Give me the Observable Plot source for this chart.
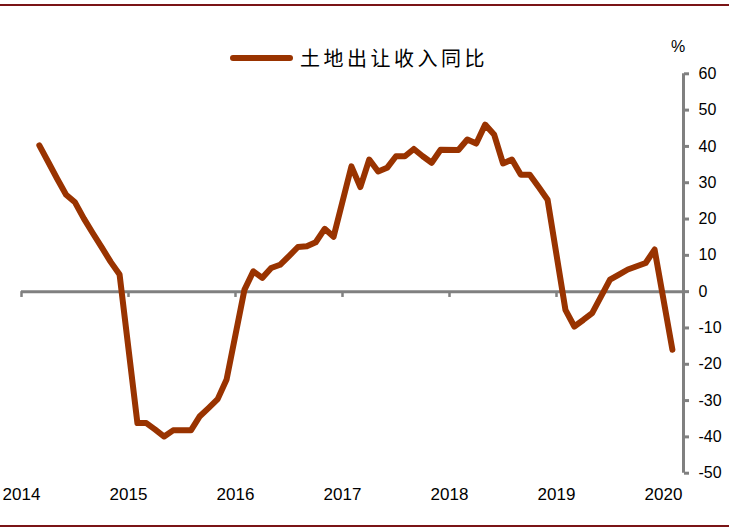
<!DOCTYPE html>
<html><head><meta charset="utf-8">
<script src="https://cdn.jsdelivr.net/npm/d3@7"></script>
<script src="https://cdn.jsdelivr.net/npm/@observablehq/plot@0.6"></script>
<style>
body{margin:0;background:#fff;}
#wrap{position:relative;width:729px;height:528px;overflow:hidden;font-family:"Liberation Sans",Arial,sans-serif;background:#fff;}
.border{position:absolute;left:0;width:729px;height:2px;background:#7a1416;}
#legline{position:absolute;left:230px;top:55px;width:63px;height:6px;border-radius:3px;background:#993300;}
#legtext{position:absolute;left:300px;top:44px;font-family:"Noto Sans CJK SC",sans-serif;font-size:20px;line-height:28px;letter-spacing:3.5px;color:#000;}
#unit{position:absolute;left:671px;top:38px;font-size:16px;color:#000;}
#chart{position:absolute;left:0;top:0;}
</style></head>
<body>
<div id="wrap">
  <div class="border" style="top:4px"></div>
  <div class="border" style="top:525px"></div>
  <div id="chart"></div>
  <div id="legline"></div>
  <div id="legtext">土地出让收入同比</div>
  <div id="unit">%</div>
</div>
<script>
const months = ["2014-03","2014-04","2014-05","2014-06","2014-07","2014-08","2014-09","2014-10","2014-11","2014-12",
"2015-02","2015-03","2015-04","2015-05","2015-06","2015-07","2015-08","2015-09","2015-10","2015-11","2015-12",
"2016-02","2016-03","2016-04","2016-05","2016-06","2016-07","2016-08","2016-09","2016-10","2016-11","2016-12",
"2017-02","2017-03","2017-04","2017-05","2017-06","2017-07","2017-08","2017-09","2017-10","2017-11","2017-12",
"2018-02","2018-03","2018-04","2018-05","2018-06","2018-07","2018-08","2018-09","2018-10","2018-11","2018-12",
"2019-02","2019-03","2019-04","2019-05","2019-06","2019-07","2019-08","2019-09","2019-10","2019-11","2019-12",
"2020-02"];
const values = [40.3,35.7,31.1,26.7,24.6,20.1,16.1,12.2,8.2,4.7,
-36.2,-36.2,-38.0,-39.9,-38.2,-38.2,-38.2,-34.3,-32.0,-29.6,-24.2,
0.5,5.6,3.8,6.5,7.4,9.8,12.3,12.5,13.6,17.3,15.1,
34.5,28.8,36.4,33.1,34.1,37.3,37.3,39.3,37.3,35.5,39.1,
39.0,41.9,40.8,46.0,43.3,35.3,36.4,32.2,32.2,28.8,25.3,
-5.0,-9.6,-7.8,-5.9,-1.3,3.3,4.7,6.1,7.0,7.9,11.6,
-16.0];
const years = [2014,2015,2016,2017,2018,2019,2020];
const yTicks = [-50,-40,-30,-20,-10,0,10,20,30,40,50,60];
const seriesName = "土地出让收入同比";

const data = months.map((m,i)=>{const [yy,mm]=m.split("-").map(Number);return {x: yy+(mm-1)/12, v: values[i]};});
const xEnd = 2014 + 662/107;

const chart = Plot.plot({
  width:729, height:528,
  marginLeft:21, marginRight:46, marginTop:73.3, marginBottom:55.3,
  x:{domain:[2014,xEnd]},
  y:{domain:[-50,60]},
  style:{fontFamily:"'Liberation Sans', Arial, sans-serif", background:"transparent", color:"#000"},
  marks:[
    Plot.ruleY([0],{stroke:"#808080",strokeWidth:3}),
    Plot.ruleX(years,{x:d=>d, y1:0, y2:-1.6, stroke:"#808080", strokeWidth:2.5}),
    Plot.ruleX([xEnd],{y1:-50,y2:60,stroke:"#808080",strokeWidth:3}),
    Plot.axisY({anchor:"right", ticks:yTicks, tickSize:5, tickPadding:10, stroke:"#808080", strokeWidth:3, fill:"#000", tickFormat:d=>String(d), fontSize:16, label:null}),
    Plot.axisX({anchor:"bottom", ticks:years, tickSize:0, tickPadding:15, fill:"#000", tickFormat:d=>String(d), fontSize:17, label:null}),
    Plot.line(data,{x:"x", y:"v", stroke:"#993300", strokeWidth:6, strokeLinejoin:"round", strokeLinecap:"round"})
  ]
});
document.getElementById("chart").appendChild(chart);
</script>
</body></html>
